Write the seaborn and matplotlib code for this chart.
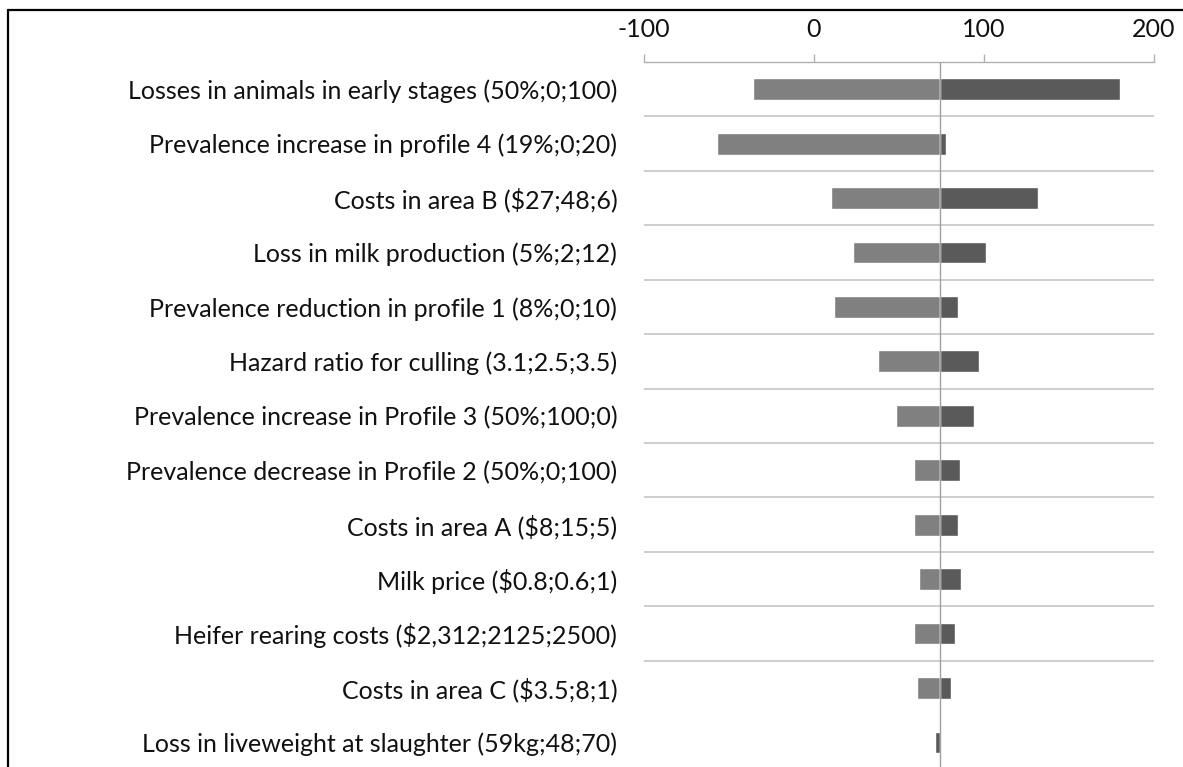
import pandas as pd
import seaborn as sns
import matplotlib.pyplot as plt
from matplotlib.lines import Line2D

# tornado chart: light bars = low input value, dark bars = high input value
parameters = [
    "Losses in animals in early stages (50%;0;100)",
    "Prevalence increase in profile 4 (19%;0;20)",
    "Costs in area B ($27;48;6)",
    "Loss in milk production (5%;2;12)",
    "Prevalence reduction in profile 1 (8%;0;10)",
    "Hazard ratio for culling (3.1;2.5;3.5)",
    "Prevalence increase in Profile 3 (50%;100;0)",
    "Prevalence decrease in Profile 2 (50%;0;100)",
    "Costs in area A ($8;15;5)",
    "Milk price ($0.8;0.6;1)",
    "Heifer rearing costs ($2,312;2125;2500)",
    "Costs in area C ($3.5;8;1)",
    "Loss in liveweight at slaughter (59kg;48;70)",
]
low_values = [-36, -57, 10, 23, 12, 37.5, 48.5, 59, 59, 62, 59, 60.5, 74]
high_values = [180, 77.5, 132, 101.5, 84.5, 97, 94, 86, 85, 86.5, 83, 80.5, 71.5]
base_value = 74
x_ticks = [-100, 0, 100, 200]

df = pd.DataFrame({
    "parameter": parameters * 2,
    "series": ["low"] * len(parameters) + ["high"] * len(parameters),
    "value": low_values + high_values,
})
# bars start at the base case, so plot the change from it
df["change"] = df["value"] - base_value

sns.set_style("white")
plt.rcParams["font.family"] = ["Lato", "DejaVu Sans"]

fig, ax = plt.subplots(figsize=(11.83, 7.67), dpi=100)
sns.barplot(data=df, y="parameter", x="change", hue="series",
            hue_order=["low", "high"], order=parameters,
            palette={"low": "#808080", "high": "#5a5a5a"},
            dodge=False, width=0.4, legend=False, ax=ax, orient="h")
ax.set_position([0.5441, -0.0034, 0.4314, 0.9226])

ax.set_xlim(x_ticks[0] - base_value, x_ticks[-1] - base_value)
ax.set_ylim(len(parameters) - 0.5, -0.5)
ax.set_xticks([t - base_value for t in x_ticks])
ax.set_xticklabels([str(t) for t in x_ticks])
ax.xaxis.tick_top()
ax.set_xlabel("")
ax.set_ylabel("")

# separators between rows and the base-case line
for k in range(len(parameters) - 2):
    ax.axhline(k + 0.5, color="#c9c9c9", lw=1.3, zorder=0)
ax.axvline(0, color="#a0a0a0", lw=1, zorder=3)

for side in ["left", "right", "bottom"]:
    ax.spines[side].set_visible(False)
ax.spines["top"].set_color("#b0b0b0")
ax.spines["top"].set_linewidth(1)

ax.tick_params(axis="x", top=True, direction="out", length=6, width=1,
               color="#b0b0b0", labelsize=18, pad=9, labelcolor="#111111")
ax.tick_params(axis="y", left=False, length=0, labelsize=18, pad=19,
               labelcolor="#111111")

# black frame on top and left of the picture
fig.add_artist(Line2D([0.0068, 1], [0.987, 0.987], color="black", lw=1.6))
fig.add_artist(Line2D([0.0068, 0.0068], [0, 0.987], color="black", lw=1.6))

plt.savefig("out.png", dpi=100)
